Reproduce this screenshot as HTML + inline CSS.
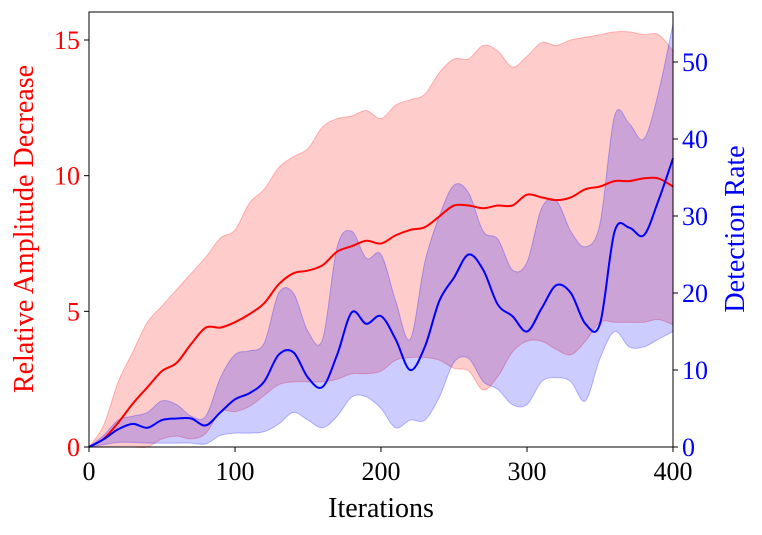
<!DOCTYPE html>
<html><head><meta charset="utf-8"><style>
body{margin:0;background:#fff}
svg{display:block;font-family:"Liberation Serif","DejaVu Serif",serif}
</style></head><body>
<svg id="chart" width="762" height="535"></svg>
<script>
const iterations=[0,10,20,30,40,50,60,70,80,90,100,110,120,130,140,150,160,170,180,190,200,210,220,230,240,250,260,270,280,290,300,310,320,330,340,350,360,370,380,390,400];
const ampMean=[0,0.3,0.9,1.6,2.2,2.8,3.1,3.8,4.4,4.4,4.6,4.9,5.3,6.0,6.4,6.5,6.7,7.2,7.4,7.6,7.5,7.8,8.0,8.1,8.5,8.9,8.9,8.8,8.9,8.9,9.3,9.2,9.1,9.2,9.5,9.6,9.8,9.8,9.9,9.9,9.6];
const ampHigh=[0,0.8,2.4,3.5,4.6,5.2,5.8,6.4,7.0,7.7,8.0,9.0,9.5,10.3,10.7,11.0,11.8,12.1,12.2,12.4,12.1,12.6,12.8,13.0,13.8,14.3,14.3,14.8,14.6,14.0,14.4,14.9,14.8,15.0,15.1,15.2,15.3,15.3,15.2,15.2,14.6];
const ampLow=[0,0,0,0,0,0.3,0.4,0.3,0.5,1.3,1.3,1.5,1.9,2.3,2.4,2.4,2.4,2.5,2.7,2.7,2.8,3.2,3.3,3.3,3.2,2.9,2.8,2.1,2.6,3.5,3.9,3.9,3.6,3.4,3.9,4.6,4.6,4.6,4.6,4.7,4.5];
const detMean=[0,1,2.3,3,2.5,3.5,3.7,3.7,2.8,4.5,6.2,7,8.5,12,12.3,9,7.8,12,17.5,16,17,14,10,13,19,22,25,23,18.5,17,15,18,21,20,16,16,28,28.5,27.5,32,37.5];
const detHigh=[0,1.5,3.5,4,4.5,6,5.5,4,4,9,12,12.5,13.5,20,20,15,14,26,28,24.5,25,19,14,24,30,34,33,28,27,23,24,31,32,28,26,29,43,42,40,46,55];
const detLow=[0,0.3,0.6,0.6,0.5,0.5,0.5,0.5,0.4,1.5,1.8,1.8,2,3,4.5,3.5,2.5,4,6.5,6.5,5,2.5,3.5,3.5,6.5,11,11.5,8.5,7.5,5.5,5.5,8.5,9,8.5,6,11.5,15,13,13,14,15];
const xTicks=[0,100,200,300,400];
const yLeftTicks=[0,5,10,15];
const yRightTicks=[0,10,20,30,40,50];

const L=89,R=673,T=12,B=447;
const xS=v=>L+(v/400)*(R-L);
const yL=v=>B-v*(B-40)/15;
const yR=v=>B-v*(B-62)/50;
const NS="http://www.w3.org/2000/svg";
const svg=document.getElementById('chart');
function mk(tag,attrs,parent){const e=document.createElementNS(NS,tag);for(const k in attrs)e.setAttribute(k,attrs[k]);(parent||svg).appendChild(e);return e;}
function pts(arr,ys){return arr.map((v,i)=>[xS(iterations[i]),ys(v)]);}
function smooth(p,start){
  let d=(start?'M':'L')+p[0][0].toFixed(1)+','+p[0][1].toFixed(1);
  for(let i=0;i<p.length-1;i++){
    const p0=p[Math.max(i-1,0)],p1=p[i],p2=p[i+1],p3=p[Math.min(i+2,p.length-1)];
    const c1=[p1[0]+(p2[0]-p0[0])/6,p1[1]+(p2[1]-p0[1])/6];
    const c2=[p2[0]-(p3[0]-p1[0])/6,p2[1]-(p3[1]-p1[1])/6];
    d+='C'+c1.map(n=>n.toFixed(1)).join(',')+' '+c2.map(n=>n.toFixed(1)).join(',')+' '+p2.map(n=>n.toFixed(1)).join(',');
  }
  return d;
}
function line(arr,ys){return smooth(pts(arr,ys),true);}
function band(hi,lo,ys){return smooth(pts(hi,ys),true)+smooth(pts(lo,ys).reverse(),false)+'Z';}

let e;
e=mk('path',{d:band(ampHigh,ampLow,yL),fill:'rgba(255,0,0,0.2)',stroke:'rgba(255,0,0,0.25)'});

e=mk('path',{d:band(detHigh,detLow,yR),fill:'rgba(0,0,255,0.2)',stroke:'rgba(0,0,255,0.25)'});

e=mk('path',{d:line(ampMean,yL),fill:'none',stroke:'#f00','stroke-width':2});

e=mk('path',{d:line(detMean,yR),fill:'none',stroke:'#00f','stroke-width':2});

e=mk('rect',{x:L,y:T,width:R-L,height:B-T,fill:'none',stroke:'#000','stroke-width':1});


xTicks.forEach(v=>{
  mk('line',{x1:xS(v),x2:xS(v),y1:B,y2:B+5,stroke:'#000'});
  e=mk('text',{x:xS(v),y:B+33,'text-anchor':'middle','font-size':26});e.textContent=v;
  
});
yLeftTicks.forEach(v=>{
  mk('line',{x1:L-5,x2:L,y1:yL(v),y2:yL(v),stroke:'#000'});
  e=mk('text',{x:L-9,y:yL(v)+9,'text-anchor':'end','font-size':26,fill:'#f00'});e.textContent=v;
  
});
yRightTicks.forEach(v=>{
  mk('line',{x1:R,x2:R+5,y1:yR(v),y2:yR(v),stroke:'#000'});
  e=mk('text',{x:R+9,y:yR(v)+9,'text-anchor':'start','font-size':26,fill:'#00f'});e.textContent=v;
  
});
e=mk('text',{x:(L+R)/2,y:517,'text-anchor':'middle','font-size':28});e.textContent='Iterations';

e=mk('text',{x:0,y:0,'text-anchor':'middle','font-size':28,fill:'#f00',transform:'translate(33,229) rotate(-90)'});e.textContent='Relative Amplitude Decrease';

e=mk('text',{x:0,y:0,'text-anchor':'middle','font-size':28,fill:'#00f',transform:'translate(744,229) rotate(-90)'});e.textContent='Detection Rate';

</script>
</body></html>
